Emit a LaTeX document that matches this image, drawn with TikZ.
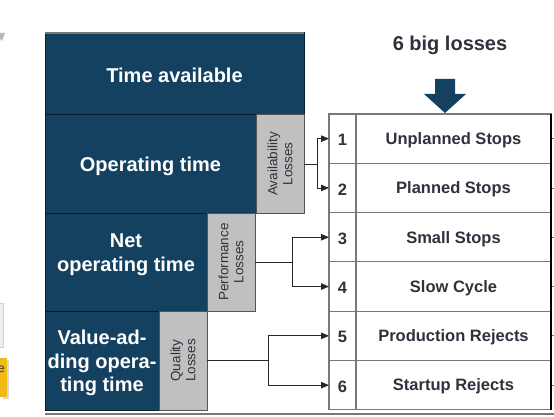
\documentclass[tikz,border=0pt]{standalone}
\usepackage{fontspec}
\setmainfont{Liberation Sans}
\usetikzlibrary{arrows.meta}
\definecolor{navy}{RGB}{21,65,97}
\definecolor{navyedge}{RGB}{10,28,42}
\definecolor{lossgray}{RGB}{192,192,192}
\definecolor{txt}{RGB}{45,50,60}
\definecolor{rulegray}{RGB}{120,120,120}
\definecolor{warnyellow}{RGB}{240,185,20}
\begin{document}
\begin{tikzpicture}[x=1pt,y=-1pt,
  darkbox/.style={draw=navyedge, line width=1pt, fill=navy, inner sep=0pt, outer sep=0pt, anchor=north west},
  darktext/.style={text=white, align=center, font=\fontsize{20}{24}\selectfont\bfseries},
  lossbox/.style={draw=rulegray!70!black, line width=1pt, fill=lossgray, inner sep=0pt, outer sep=0pt,
    anchor=north west, minimum width=48pt},
  losstext/.style={rotate=90, align=center, text=txt, font=\fontsize{13.5}{15}\selectfont},
  numbox/.style={draw=rulegray, line width=1.1pt, fill=white, inner sep=0pt, outer sep=0pt, anchor=north west,
    minimum width=27pt, minimum height=49.3pt},
  rowbox/.style={draw=rulegray, line width=1.1pt, fill=white, inner sep=0pt, outer sep=0pt, anchor=north west,
    minimum width=195pt, minimum height=49.3pt},
  rowtext/.style={text=txt, font=\fontsize{16.5}{19}\selectfont\bfseries},
  conn/.style={draw=black!85, line width=0.9pt},
  arr/.style={conn, -{Triangle[length=8pt,width=6.5pt]}}
]
\useasboundingbox (0,0) rectangle (554,417);

% cropped fragments at the left edge
\fill[gray!55] (0,33) -- (5,33) -- (2,41) -- (0,39) -- cycle;
\filldraw[fill=gray!12, draw=gray!35] (-2,303) rectangle (3,347);
\fill[gray!30] (3,360) rectangle (9,399);
\fill[warnyellow] (-2,358) rectangle (7,397);
\node[text=txt, font=\fontsize{12}{14}\selectfont, inner sep=0pt] (frag) at (1.5,369) {e};

% left stack
\node[darkbox, minimum width=259pt, minimum height=82pt] (ta) at (45,33) {};
\node[darktext] (tat) at ([yshift=-1pt]ta.center) {Time available};
\draw[rulegray, line width=1.2pt] (ta.north west) -- (ta.north east);
\node[darkbox, minimum width=211pt, minimum height=98pt] (op) at (45,115) {};
\node[darktext] (opt) at ([yshift=-2.5pt]op.center) {Operating time};
\node[lossbox, minimum height=98pt] (av) at (256,115) {};
\node[losstext] (avt) at (av.center) {Availability\\Losses};
\node[darkbox, minimum width=162pt, minimum height=98pt] (net) at (45,213) {};
\node[darktext] (nett) at ([yshift=7.5pt]net.center) {Net\\operating time};
\node[lossbox, minimum height=98pt] (pf) at (207,213) {};
\node[losstext] (pft) at (pf.center) {Performance\\Losses};
\node[darkbox, minimum width=114pt, minimum height=99pt] (va) at (45,311) {};
\node[darktext, font=\fontsize{20}{23.5}\selectfont\bfseries] (vat) at ([yshift=-2.5pt]va.center) {Value-ad-\\ding opera-\\ting time};
\node[lossbox, minimum height=99pt] (ql) at (159,311) {};
\node[losstext] (qlt) at (ql.center) {Quality\\Losses};

% title and block arrow
\node[text=txt, font=\fontsize{20}{22}\selectfont\bfseries] (title) at (450,45) {6 big losses};
\fill[navy] (435,79) -- (455,79) -- (455,94) -- (466,94) -- (445,113) -- (424,94) -- (435,94) -- cycle;

% table of six losses
\foreach \i/\t in {1/Unplanned Stops,2/Planned Stops,3/Small Stops,4/Slow Cycle,5/Production Rejects,6/Startup Rejects}{
  \node[numbox] (n\i) at (329,{114+49.3*(\i-1)}) {};
  \node[rowtext] (nt\i) at ([yshift=-1.5pt]n\i.center) {\i};
  \node[rowbox] (r\i) at (356,{114+49.3*(\i-1)}) {};
  \node[rowtext] (rt\i) at ([yshift=-1.5pt]r\i.center) {\t};
  \draw[rulegray, line width=0.8pt] ([xshift=1pt]r\i.east) -- ++(3,0);
}
\draw[black, line width=1.7pt] (r1.north east) -- (r6.south east);
\draw[rulegray, line width=1.2pt] (va.south west) ++(0,4) -- (554,414);

% connectors
\coordinate (j1) at (317,164);
\coordinate (j2) at (292,262);
\coordinate (j3) at (268,360.5);
\draw[conn] (av.east |- j1) -- (j1);
\draw[arr] (j1) |- (n1.west);
\draw[arr] (j1) |- (n2.west);
\draw[conn] (pf.east |- j2) -- (j2);
\draw[arr] (j2) |- (n3.west);
\draw[arr] (j2) |- (n4.west);
\draw[conn] (ql.east |- j3) -- (j3);
\draw[arr] (j3) |- (n5.west);
\draw[arr] (j3) |- (n6.west);
\end{tikzpicture}
\end{document}
